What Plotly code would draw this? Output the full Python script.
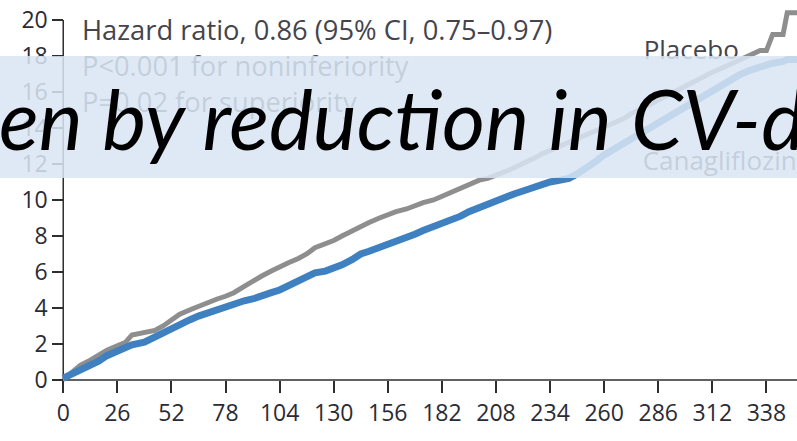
import plotly.graph_objects as go

# Cumulative incidence (%) by week since randomization
weeks = [0, 4, 8, 13, 17, 21, 26, 30, 33, 39, 44, 48, 52, 56, 61, 65, 70, 74, 78,
         82, 87, 91, 95, 100, 104, 108, 113, 117, 121, 126, 130, 134, 139, 143,
         147, 152, 156, 160, 165, 169, 173, 178, 182, 186, 191, 195, 200, 204,
         208, 213, 217, 221, 226, 230, 234, 239, 243, 247, 252, 256, 260, 265,
         269, 273, 278, 282, 286, 291, 295, 299, 304, 308, 312, 317, 321, 325,
         330, 335, 338, 341, 346, 348, 353]

placebo = [0.0, 0.4, 0.8, 1.1, 1.4, 1.65, 1.9, 2.1, 2.5, 2.6, 2.75, 3.0, 3.35,
           3.65, 3.9, 4.1, 4.3, 4.5, 4.65, 4.85, 5.2, 5.5, 5.75, 6.05, 6.3, 6.5,
           6.75, 7.0, 7.35, 7.55, 7.75, 8.0, 8.3, 8.55, 8.75, 9.0, 9.2, 9.35,
           9.5, 9.7, 9.85, 10.0, 10.2, 10.45, 10.7, 10.9, 11.1, 11.2, 11.35,
           11.6, 11.8, 12.0, 12.3, 12.55, 12.75, 12.95, 13.2, 13.4, 13.6, 13.85,
           14.0, 14.3, 14.5, 14.8, 15.05, 15.3, 15.55, 15.85, 16.1, 16.35, 16.6,
           16.85, 17.1, 17.35, 17.55, 17.8, 18.0, 18.3, 18.3, 19.2, 19.2, 20.4,
           20.4]

canagliflozin = [0.1, 0.3, 0.5, 0.8, 1.05, 1.35, 1.6, 1.8, 1.95, 2.1, 2.4, 2.65,
                 2.9, 3.1, 3.35, 3.55, 3.75, 3.95, 4.05, 4.25, 4.4, 4.5, 4.7,
                 4.85, 5.0, 5.2, 5.45, 5.75, 5.95, 6.05, 6.2, 6.4, 6.7, 7.0,
                 7.15, 7.35, 7.55, 7.7, 7.9, 8.1, 8.3, 8.5, 8.7, 8.9, 9.1, 9.35,
                 9.6, 9.8, 10.0, 10.2, 10.35, 10.5, 10.7, 10.85, 11.0, 11.1,
                 11.2, 11.45, 11.8, 12.15, 12.5, 12.85, 13.1, 13.4, 13.7, 14.0,
                 14.3, 14.6, 14.9, 15.2, 15.5, 15.8, 16.1, 16.4, 16.7, 16.95,
                 17.2, 17.4, 17.5, 17.6, 17.7, 17.8, 17.8]

x_ticks = list(range(0, 339, 26))
y_ticks = list(range(0, 21, 2))

stats_lines = ["Hazard ratio, 0.86 (95% CI, 0.75\u20130.97)",
               "P<0.001 for noninferiority",
               "P=0.02 for superiority"]
stats_y = [19.28, 17.28, 15.28]

series_labels = ["Placebo", "Canagliflozin"]
series_label_pos = [(279.0, 18.2), (278.5, 12.0)]

headline = "en by reduction in CV-d"

W, H = 797, 441
x_min, x_max = -30.4, 352.7
y_min, y_max = -3.39, 21.11
axis_color = "#2e2e2e"
label_font = dict(family="Open Sans", size=23, color="#2b2b35")
stats_font = dict(family="Open Sans", size=27.3, color="#44444c")
series_font = dict(family="Open Sans", size=26, color="#44444c")

fig = go.Figure()

fig.add_trace(go.Scatter(x=weeks, y=placebo, mode="lines",
                         line=dict(color="#8e8e8e", width=5), showlegend=False,
                         hoverinfo="skip"))
fig.add_trace(go.Scatter(x=weeks, y=canagliflozin, mode="lines",
                         line=dict(color="#3f80c0", width=7), showlegend=False,
                         hoverinfo="skip"))

# statistics block (drawn as text traces so the banner sits over them)
fig.add_trace(go.Scatter(x=[9.0] * len(stats_lines), y=stats_y, text=stats_lines,
                         mode="text", textposition="middle right",
                         textfont=stats_font, showlegend=False, hoverinfo="skip"))
fig.add_trace(go.Scatter(x=[p[0] for p in series_label_pos],
                         y=[p[1] for p in series_label_pos],
                         text=series_labels, mode="text", textposition="middle right",
                         textfont=series_font, showlegend=False, hoverinfo="skip"))

# axis lines from the origin
fig.add_shape(type="line", xref="x", yref="y", x0=0, x1=x_max, y0=0, y1=0,
              line=dict(color=axis_color, width=1.5), layer="below")
fig.add_shape(type="line", xref="x", yref="y", x0=0, x1=0, y0=0, y1=20,
              line=dict(color=axis_color, width=1.5), layer="below")

# translucent banner across the upper part of the plot
fig.add_shape(type="rect", xref="paper", yref="paper", x0=0, x1=1,
              y0=(H - 178) / H, y1=(H - 56) / H,
              fillcolor="rgb(216,229,243)", opacity=0.86, line=dict(width=0),
              layer="above")

fig.add_annotation(xref="paper", yref="paper", x=0, y=(H - 118) / H,
                   xanchor="left", yanchor="middle", xshift=-3,
                   text="<i>" + headline + "</i>", showarrow=False,
                   font=dict(family="Lato", size=83, color="#000000"))

fig.update_layout(
    width=W, height=H,
    margin=dict(l=0, r=0, t=0, b=0),
    paper_bgcolor="white", plot_bgcolor="white",
    xaxis=dict(range=[x_min, x_max], anchor="free", position=(H - 380) / H,
               tickvals=x_ticks, ticks="outside", ticklen=12, tickwidth=1.5,
               tickcolor=axis_color, showline=False, showgrid=False,
               zeroline=False, tickfont=label_font),
    yaxis=dict(range=[y_min, y_max], anchor="free", position=63.3 / W,
               tickvals=y_ticks, ticks="outside", ticklen=11, tickwidth=1.5,
               tickcolor=axis_color, showline=False, showgrid=False,
               zeroline=False, tickfont=label_font),
)

fig.write_html("out.html")
